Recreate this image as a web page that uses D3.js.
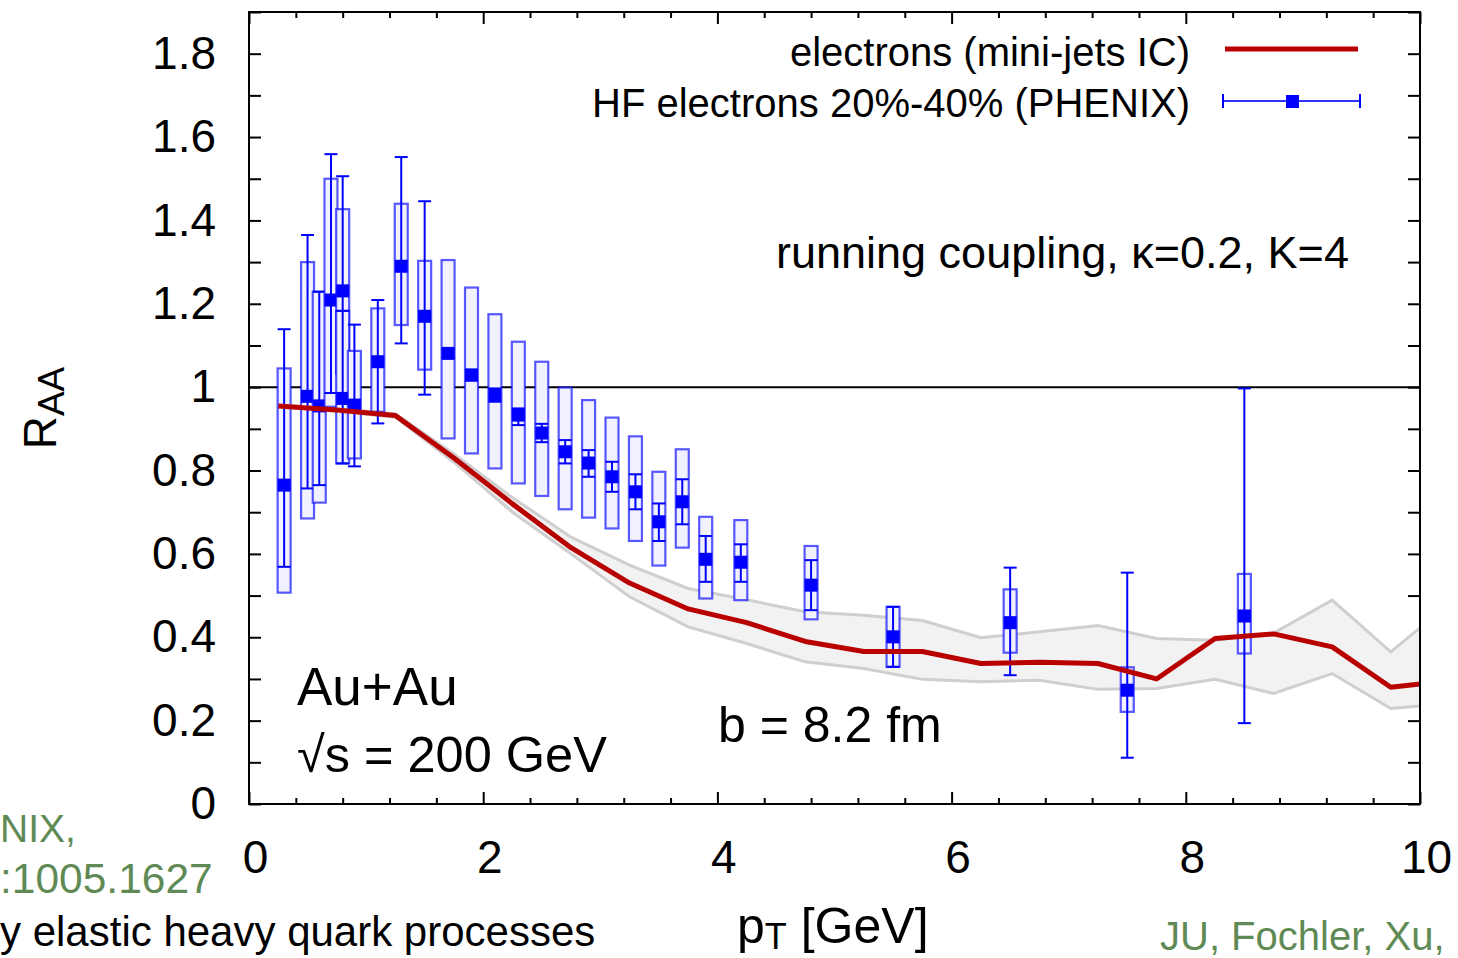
<!DOCTYPE html>
<html>
<head>
<meta charset="utf-8">
<script src="https://cdn.jsdelivr.net/npm/d3@7"></script>
<style>
body { margin: 0; background: #fff; }
svg { display: block; font-family: "Liberation Sans", Arial, Helvetica, sans-serif; }
</style>
</head>
<body>
<svg id="chart" width="1458" height="958"></svg>
<script>
// R_AA of heavy flavour electrons, Au+Au 200 GeV, b = 8.2 fm

// theory curve (mini-jets IC) with its uncertainty band
var theoryPt  = [0.25, 0.75, 1.25, 1.75, 2.25, 2.75, 3.25, 3.75, 4.25, 4.75, 5.25, 5.75, 6.25, 6.75, 7.25, 7.75, 8.25, 8.75, 9.25, 9.75, 10.25];
var theoryRaa = [0.955, 0.945, 0.932, 0.83, 0.72, 0.615, 0.53, 0.468, 0.435, 0.39, 0.366, 0.366, 0.337, 0.34, 0.337, 0.30, 0.397, 0.408, 0.377, 0.28, 0.296];
var bandHi    = [0.957, 0.948, 0.936, 0.84, 0.735, 0.64, 0.573, 0.517, 0.49, 0.461, 0.453, 0.44, 0.399, 0.413, 0.428, 0.397, 0.393, 0.41, 0.489, 0.365, 0.48];
var bandLo    = [0.953, 0.942, 0.928, 0.82, 0.70, 0.60, 0.497, 0.425, 0.385, 0.341, 0.325, 0.299, 0.293, 0.297, 0.275, 0.277, 0.299, 0.265, 0.313, 0.229, 0.241];

// PHENIX HF electrons 20%-40%
var phenixPt  = [0.30, 0.50, 0.60, 0.70, 0.80, 0.80, 0.90, 1.10, 1.30, 1.50, 1.70, 1.90, 2.10, 2.30, 2.50, 2.70, 2.90, 3.10, 3.30, 3.50, 3.70, 3.90, 4.20, 4.80, 5.50, 6.50, 7.50, 8.50];
var phenixRaa = [0.765, 0.978, 0.955, 1.209, 1.231, 0.973, 0.957, 1.061, 1.290, 1.170, 1.081, 1.029, 0.981, 0.933, 0.890, 0.845, 0.818, 0.785, 0.749, 0.677, 0.725, 0.587, 0.580, 0.525, 0.401, 0.435, 0.273, 0.451];
var statLo    = [0.569, 0.757, 0.765, 0.986, 0.986, 0.817, 0.810, 0.913, 1.105, 0.982, 1.071, 1.016, 0.965, 0.909, 0.868, 0.817, 0.785, 0.749, 0.707, 0.631, 0.671, 0.533, 0.533, 0.465, 0.329, 0.309, 0.111, 0.194];
var statHi    = [1.139, 1.365, 1.229, 1.559, 1.506, 1.183, 1.150, 1.209, 1.552, 1.446, 1.091, 1.042, 0.997, 0.949, 0.912, 0.873, 0.849, 0.821, 0.791, 0.721, 0.779, 0.643, 0.623, 0.585, 0.473, 0.567, 0.555, 0.997];
var sysLo     = [0.507, 0.685, 0.723, 0.953, 1.033, 0.817, 0.829, 0.941, 1.149, 1.042, 0.877, 0.841, 0.805, 0.769, 0.739, 0.707, 0.687, 0.661, 0.631, 0.572, 0.615, 0.493, 0.489, 0.443, 0.329, 0.363, 0.221, 0.361];
var sysHi     = [1.045, 1.300, 1.229, 1.500, 1.427, 1.183, 1.087, 1.189, 1.440, 1.303, 1.305, 1.239, 1.175, 1.109, 1.061, 0.999, 0.969, 0.927, 0.882, 0.797, 0.851, 0.689, 0.681, 0.619, 0.473, 0.515, 0.328, 0.552];

var xTicks = [0, 2, 4, 6, 8, 10];
var yTicks = [0, 0.2, 0.4, 0.6, 0.8, 1, 1.2, 1.4, 1.6, 1.8];

var svg = d3.select("#chart");
var x = d3.scaleLinear().domain([0, 10]).range([249, 1420]);
var y = d3.scaleLinear().domain([0, 1.9]).range([804, 12]);

var blue = "#0000ff";
var red = "#b80000";
var boxW = 13, markW = 13;

svg.append("rect").attr("width", 1458).attr("height", 958).attr("fill", "#fff");

svg.append("clipPath").attr("id", "frame-clip")
	.append("rect")
	.attr("x", x(0)).attr("y", y(1.9))
	.attr("width", x(10) - x(0)).attr("height", y(0) - y(1.9));

// axes: ticks point inwards on all four sides
var xMinor = d3.range(0, 10.001, 0.4).filter(v => Math.abs(v / 2 - Math.round(v / 2)) > 1e-6);
var yAll = d3.range(0, 1.901, 0.1);

function styleAxis(g) {
	g.select(".domain").remove();
	g.selectAll("line").attr("stroke", "#000").attr("stroke-width", 2);
	g.selectAll("text").attr("fill", "#000").attr("font-size", 46);
}

svg.append("g").attr("transform", "translate(0," + y(0) + ")")
	.call(d3.axisBottom(x).tickValues(xMinor).tickSize(-6).tickFormat(""))
	.call(styleAxis);
svg.append("g").attr("transform", "translate(0," + y(0) + ")")
	.call(d3.axisBottom(x).tickValues(xTicks).tickSize(-12).tickPadding(36).tickFormat(d3.format("d")))
	.call(styleAxis)
	.selectAll("text").attr("dx", 6);
svg.append("g").attr("transform", "translate(0," + y(1.9) + ")")
	.call(d3.axisTop(x).tickValues(xMinor).tickSize(-6).tickFormat(""))
	.call(styleAxis);
svg.append("g").attr("transform", "translate(0," + y(1.9) + ")")
	.call(d3.axisTop(x).tickValues(xTicks).tickSize(-12).tickFormat(""))
	.call(styleAxis);

svg.append("g").attr("transform", "translate(" + x(0) + ",0)")
	.call(d3.axisLeft(y).tickValues(yAll).tickSize(-12).tickFormat(""))
	.call(styleAxis);
svg.append("g").attr("transform", "translate(" + x(0) + ",0)")
	.call(d3.axisLeft(y).tickValues(yTicks).tickSize(0).tickPadding(33).tickFormat(d3.format("~g")))
	.call(styleAxis);
svg.append("g").attr("transform", "translate(" + x(10) + ",0)")
	.call(d3.axisRight(y).tickValues(yAll).tickSize(-12).tickFormat(""))
	.call(styleAxis);

// reference line at R_AA = 1
svg.append("line")
	.attr("x1", x(0)).attr("x2", x(10))
	.attr("y1", y(1)).attr("y2", y(1))
	.attr("stroke", "#000").attr("stroke-width", 2);

var plot = svg.append("g").attr("clip-path", "url(#frame-clip)");

// uncertainty band of the calculation
var bandData = theoryPt.map((p, i) => ({pt: p, lo: bandLo[i], hi: bandHi[i]}));
plot.append("path")
	.datum(bandData)
	.attr("d", d3.area().x(d => x(d.pt)).y0(d => y(d.lo)).y1(d => y(d.hi)))
	.attr("fill", "#f2f2f2");
plot.append("path").datum(bandData)
	.attr("d", d3.line().x(d => x(d.pt)).y(d => y(d.hi)))
	.attr("fill", "none").attr("stroke", "#cfcfcf").attr("stroke-width", 3);
plot.append("path").datum(bandData)
	.attr("d", d3.line().x(d => x(d.pt)).y(d => y(d.lo)))
	.attr("fill", "none").attr("stroke", "#cfcfcf").attr("stroke-width", 3);

// data points
var pts = phenixPt.map((p, i) => ({
	pt: p, raa: phenixRaa[i], sLo: statLo[i], sHi: statHi[i], bLo: sysLo[i], bHi: sysHi[i]
}));

var pg = plot.append("g").selectAll("g").data(pts).enter().append("g");

pg.append("rect")
	.attr("x", d => x(d.pt) - boxW / 2)
	.attr("y", d => y(d.bHi))
	.attr("width", boxW)
	.attr("height", d => y(d.bLo) - y(d.bHi))
	.attr("fill", "#f1f1ff")
	.attr("stroke", blue).attr("stroke-opacity", 0.65).attr("stroke-width", 2.2);

pg.append("line")
	.attr("x1", d => x(d.pt)).attr("x2", d => x(d.pt))
	.attr("y1", d => y(d.sLo)).attr("y2", d => y(d.sHi))
	.attr("stroke", blue).attr("stroke-width", 2);
pg.append("line")
	.attr("x1", d => x(d.pt) - boxW / 2).attr("x2", d => x(d.pt) + boxW / 2)
	.attr("y1", d => y(d.sLo)).attr("y2", d => y(d.sLo))
	.attr("stroke", blue).attr("stroke-width", 2);
pg.append("line")
	.attr("x1", d => x(d.pt) - boxW / 2).attr("x2", d => x(d.pt) + boxW / 2)
	.attr("y1", d => y(d.sHi)).attr("y2", d => y(d.sHi))
	.attr("stroke", blue).attr("stroke-width", 2);

pg.append("rect")
	.attr("x", d => x(d.pt) - markW / 2)
	.attr("y", d => y(d.raa) - markW / 2)
	.attr("width", markW).attr("height", markW)
	.attr("fill", blue);

// calculation curve
plot.append("path")
	.datum(theoryPt.map((p, i) => ({pt: p, v: theoryRaa[i]})))
	.attr("d", d3.line().x(d => x(d.pt)).y(d => y(d.v)))
	.attr("fill", "none").attr("stroke", red).attr("stroke-width", 5)
	.attr("stroke-linejoin", "round");

// frame
svg.append("rect")
	.attr("x", x(0)).attr("y", y(1.9))
	.attr("width", x(10) - x(0)).attr("height", y(0) - y(1.9))
	.attr("fill", "none").attr("stroke", "#000").attr("stroke-width", 2);

// legend
var leg = svg.append("g").attr("font-size", 40).attr("fill", "#000").attr("text-anchor", "end");
leg.append("text").attr("x", 1190).attr("y", 66).text("electrons (mini-jets IC)");
leg.append("text").attr("x", 1190).attr("y", 117).text("HF electrons 20%-40% (PHENIX)");
svg.append("line").attr("x1", 1225).attr("x2", 1358).attr("y1", 49).attr("y2", 49)
	.attr("stroke", red).attr("stroke-width", 5);
svg.append("line").attr("x1", 1223).attr("x2", 1360).attr("y1", 101).attr("y2", 101)
	.attr("stroke", blue).attr("stroke-width", 2).attr("stroke-opacity", 0.8);
[1223, 1360].forEach(function(cx) {
	svg.append("line").attr("x1", cx).attr("x2", cx).attr("y1", 94).attr("y2", 108)
		.attr("stroke", blue).attr("stroke-width", 2);
});
svg.append("rect").attr("x", 1286).attr("y", 95).attr("width", markW).attr("height", markW).attr("fill", blue);

// annotations
svg.append("text").attr("x", 776).attr("y", 268).attr("font-size", 45).text("running coupling, κ=0.2, K=4");
svg.append("text").attr("x", 297).attr("y", 705).attr("font-size", 53).text("Au+Au");
svg.append("text").attr("x", 297).attr("y", 772).attr("font-size", 50.5).text("√s = 200 GeV");
svg.append("text").attr("x", 718).attr("y", 742).attr("font-size", 50).text("b = 8.2 fm");

// axis titles
var yl = svg.append("text").attr("transform", "translate(56,408) rotate(-90)").attr("text-anchor", "middle");
yl.append("tspan").attr("font-size", 46).text("R");
yl.append("tspan").attr("font-size", 37).attr("dy", 8).text("AA");

var xl = svg.append("text").attr("x", 737).attr("y", 943);
xl.append("tspan").attr("font-size", 50).text("p");
xl.append("tspan").attr("font-size", 36).attr("dy", 6).text("T");
xl.append("tspan").attr("font-size", 50).attr("dy", -6).text(" [GeV]");

// surrounding slide text, only the parts inside the picture
var green = "#5f8a55";
svg.append("text").attr("x", 0).attr("y", 842).attr("font-size", 39).attr("fill", green).text("NIX,");
svg.append("text").attr("x", 0).attr("y", 893).attr("font-size", 42.5).attr("fill", green).text(":1005.1627");
svg.append("text").attr("x", 1160).attr("y", 950).attr("font-size", 40).attr("fill", green).text("JU, Fochler, Xu,");
svg.append("text").attr("x", 0).attr("y", 946).attr("font-size", 42).attr("fill", "#000").text("y elastic heavy quark processes");
</script>
</body>
</html>
